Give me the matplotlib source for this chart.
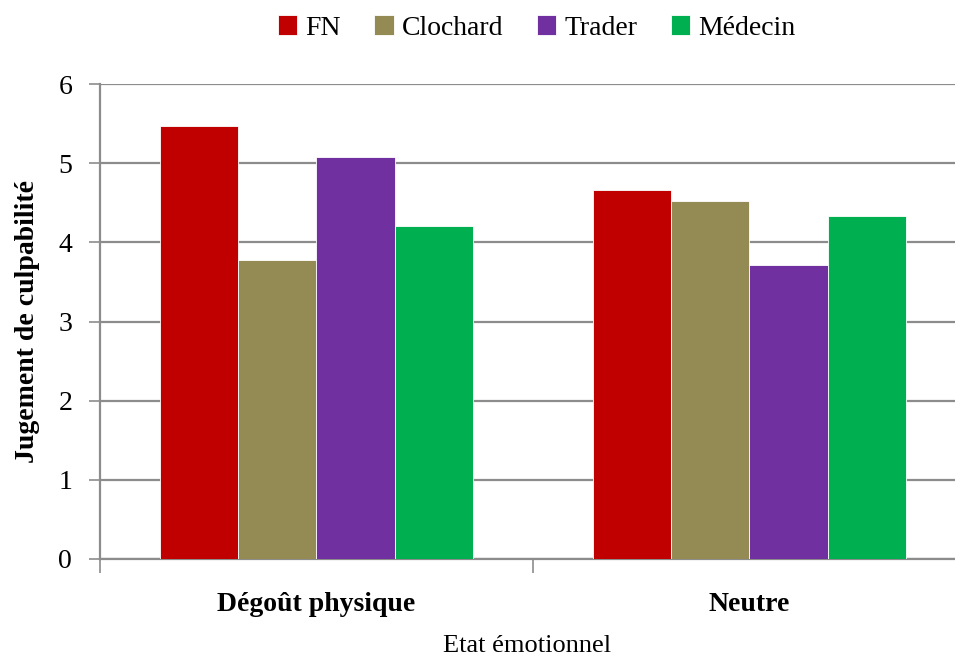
import matplotlib.pyplot as plt
import numpy as np

# chart data
categories = ['Dégoût physique', 'Neutre']
groups = ['FN', 'Clochard', 'Trader', 'Médecin']
fn = [5.47, 4.66]
clochard = [3.78, 4.52]
trader = [5.08, 3.72]
medecin = [4.21, 4.33]
colors = ['#C00000', '#948A54', '#7030A0', '#00B050']

plt.rcParams['font.family'] = ['Liberation Serif', 'DejaVu Serif']

fig = plt.figure(figsize=(9.55, 6.57), dpi=100)
ax = fig.add_axes([100/955, 1 - 559/657, 1 - 100/955, (559 - 84)/657])

x = np.arange(len(categories))
w = 0.181
series = [fn, clochard, trader, medecin]
for i, vals in enumerate(series):
    ax.bar(x + (i - 1.5) * w, vals, w, color=colors[i], label=groups[i],
           edgecolor='white', linewidth=0.6, zorder=3)

ax.set_ylim(0, 6)
ax.set_xlim(-0.5, 1.475)
ax.set_yticks(range(7))
ax.yaxis.grid(True, color='#8c8c8c', linewidth=1.6, zorder=0)
ax.set_xticks(x)
ax.set_xticklabels(categories, fontsize=20, fontweight='bold')
ax.set_xticks([-0.5, 0.5], minor=True)
ax.tick_params(axis='x', which='major', length=0, pad=24)
ax.tick_params(axis='x', which='minor', length=10, width=1.2, color='#8c8c8c', direction='out')
ax.tick_params(axis='y', length=8, width=1.2, color='#8c8c8c', labelsize=20, pad=12)

for s in ['top', 'right']:
    ax.spines[s].set_visible(False)
for s in ['left', 'bottom']:
    ax.spines[s].set_color('#8c8c8c')
    ax.spines[s].set_linewidth(1.6)

ax.set_ylabel('Jugement de culpabilité', fontsize=20, fontweight='bold', labelpad=13)
ax.set_xlabel('Etat émotionnel', fontsize=19, labelpad=13)

fig.legend(loc='upper center', bbox_to_anchor=(0.562, 1.015), ncol=4, frameon=False,
           fontsize=20, handlelength=0.7, handleheight=0.7, handletextpad=0.3,
           columnspacing=1.2)

fig.savefig('out.png', dpi=100)
